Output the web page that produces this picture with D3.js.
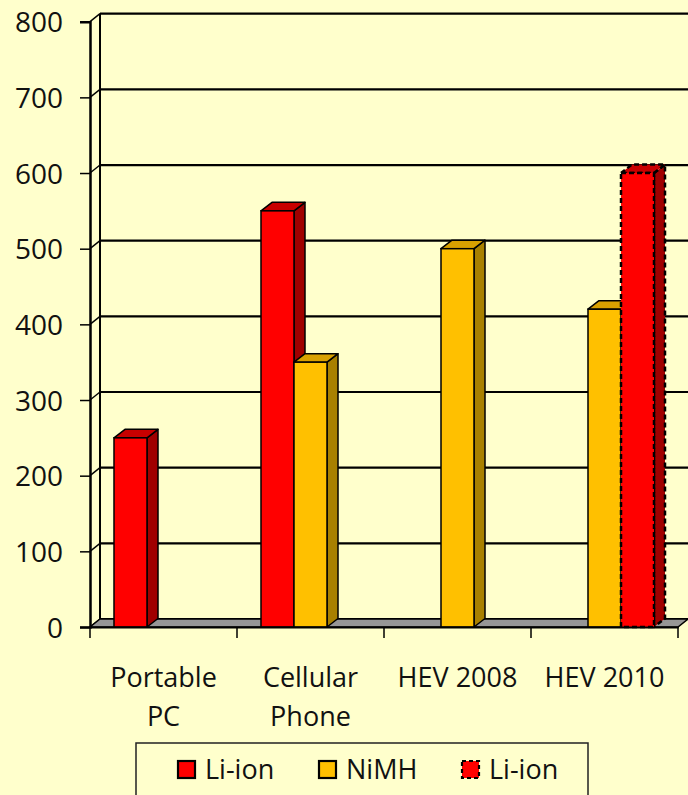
<!DOCTYPE html>
<html>
<head>
<meta charset="utf-8">
<script src="https://cdn.jsdelivr.net/npm/d3@7/dist/d3.min.js"></script>
<style>
  html, body { margin: 0; padding: 0; background: #FFFFCC; }
  svg { display: block; }
  text { font-family: "Open Sans", "Noto Sans", sans-serif; fill: #111; }
</style>
</head>
<body>
<svg id="chart" width="688" height="795"></svg>
<script>
// Energy density by application (Wh/L)
const categories = ["Portable PC", "Cellular Phone", "HEV 2008", "HEV 2010"];
const categoryLines = [["Portable", "PC"], ["Cellular", "Phone"], ["HEV 2008"], ["HEV 2010"]];
const liIon = [250, 550, null, null];
const nimh = [null, 350, 500, 420];
const liIonTarget = [null, null, null, 600];
const yTicks = [0, 100, 200, 300, 400, 500, 600, 700, 800];
const seriesNames = ["Li-ion", "NiMH", "Li-ion"];

const series = [
  { key: "liIon", name: seriesNames[0], values: liIon, front: "#FF0000", topFill: "#C80000", side: "#A00000", dashed: false },
  { key: "nimh", name: seriesNames[1], values: nimh, front: "#FFC000", topFill: "#D9A000", side: "#A88000", dashed: false },
  { key: "liIonTarget", name: seriesNames[2], values: liIonTarget, front: "#FF0000", topFill: "#C80000", side: "#A00000", dashed: true }
];

const svg = d3.select("#chart");
svg.append("rect").attr("width", 688).attr("height", 795).attr("fill", "#FFFFCC");

// plot frame (front plane) and 3D depth offsets
const plotLeft = 90, plotRight = 678, plotBottom = 627, plotTop = 21.7;
const wallDx = 10, wallDy = -8;
const barDx = 11, barDy = -8.5;

const x = d3.scaleBand().domain(categories).range([plotLeft, plotRight]).padding(0);
const xs = d3.scaleBand().domain(series.map(s => s.key)).range([0, x.bandwidth()])
  .paddingInner(0).paddingOuter(0.727);
const y = d3.scaleLinear().domain([0, 800]).range([plotBottom, plotTop]);

const g = svg.append("g");

// back-wall gridlines and left-wall diagonals
yTicks.forEach(v => {
  g.append("line")
    .attr("x1", plotLeft + wallDx).attr("x2", 700)
    .attr("y1", y(v) + wallDy).attr("y2", y(v) + wallDy)
    .attr("stroke", "#000").attr("stroke-width", 2.2);
  g.append("line")
    .attr("x1", plotLeft).attr("y1", y(v))
    .attr("x2", plotLeft + wallDx).attr("y2", y(v) + wallDy)
    .attr("stroke", "#000").attr("stroke-width", 1.5);
});

// back wall left edge
g.append("line")
  .attr("x1", plotLeft + wallDx).attr("x2", plotLeft + wallDx)
  .attr("y1", y(800) + wallDy).attr("y2", y(0) + wallDy)
  .attr("stroke", "#000").attr("stroke-width", 2);

// floor
g.append("path")
  .attr("d", d3.line()([[plotLeft, plotBottom], [plotRight, plotBottom], [plotRight + wallDx, plotBottom + wallDy], [plotLeft + wallDx, plotBottom + wallDy]]) + "Z")
  .attr("fill", "#969696").attr("stroke", "#000").attr("stroke-width", 1.5);

// value axis (front edge)
const yAxis = d3.axisLeft(y).tickValues(yTicks).tickSize(10).tickPadding(17);
const ya = g.append("g").attr("transform", `translate(${plotLeft},0)`).call(yAxis);
ya.select(".domain").attr("stroke", "#000").attr("stroke-width", 2.5);
ya.selectAll(".tick line").attr("stroke", "#000").attr("stroke-width", 1.5);
ya.selectAll(".tick text")
  .attr("font-family", "'Open Sans', 'Noto Sans', sans-serif")
  .attr("font-size", 28).attr("fill", "#111").attr("dy", "0.36em");

// bars, drawn left to right so nearer faces overlap correctly
const barLayer = g.append("g");
categories.forEach((c, ci) => {
  series.forEach(s => {
    const v = s.values[ci];
    if (v == null) return;
    const x0 = x(c) + xs(s.key);
    const x1 = x0 + xs.bandwidth();
    const yt = y(v), yb = y(0);
    const dash = s.dashed ? "5,3" : null;
    const sw = s.dashed ? 2.5 : 1.5;
    const bar = barLayer.append("g");
    bar.append("path")
      .attr("d", d3.line()([[x1, yt], [x1 + barDx, yt + barDy], [x1 + barDx, yb + barDy], [x1, yb]]) + "Z")
      .attr("fill", s.side).attr("stroke", "#000").attr("stroke-width", sw)
      .attr("stroke-dasharray", dash).attr("stroke-linejoin", "round");
    bar.append("path")
      .attr("d", d3.line()([[x0, yt], [x0 + barDx, yt + barDy], [x1 + barDx, yt + barDy], [x1, yt]]) + "Z")
      .attr("fill", s.topFill).attr("stroke", "#000").attr("stroke-width", sw)
      .attr("stroke-dasharray", dash).attr("stroke-linejoin", "round");
    bar.append("rect")
      .attr("x", x0).attr("y", yt).attr("width", x1 - x0).attr("height", yb - yt)
      .attr("fill", s.front).attr("stroke", "#000").attr("stroke-width", sw)
      .attr("stroke-dasharray", dash);
  });
});

// category axis
const xAxis = d3.axisBottom(x).tickSize(0).tickFormat("");
const xa = g.append("g").attr("transform", `translate(0,${plotBottom})`).call(xAxis);
xa.select(".domain").attr("stroke", "#000").attr("stroke-width", 2);
const boundaries = categories.map(c => x(c)).concat([plotRight]);
boundaries.forEach(bx => {
  g.append("line").attr("x1", bx).attr("x2", bx).attr("y1", plotBottom).attr("y2", plotBottom + 11)
    .attr("stroke", "#000").attr("stroke-width", 1.5);
});
categories.forEach((c, ci) => {
  const t = g.append("text")
    .attr("x", x(c) + x.bandwidth() / 2).attr("y", 687)
    .attr("text-anchor", "middle").attr("font-size", 27);
  categoryLines[ci].forEach((line, li) => {
    t.append("tspan").attr("x", x(c) + x.bandwidth() / 2).attr("dy", li === 0 ? 0 : 39).text(line);
  });
});

// legend
const legend = svg.append("g");
legend.append("rect").attr("x", 136).attr("y", 743).attr("width", 452).attr("height", 70)
  .attr("fill", "#FFFFCC").attr("stroke", "#222").attr("stroke-width", 1.5);
const legendX = [178, 319, 462];
series.forEach((s, i) => {
  legend.append("rect").attr("x", legendX[i]).attr("y", 761).attr("width", 17).attr("height", 17)
    .attr("fill", s.front).attr("stroke", "#000").attr("stroke-width", 2.2)
    .attr("stroke-dasharray", s.dashed ? "4,3" : null);
  legend.append("text").attr("x", legendX[i] + 27).attr("y", 779)
    .attr("font-size", 27).text(s.name);
});
</script>
</body>
</html>
